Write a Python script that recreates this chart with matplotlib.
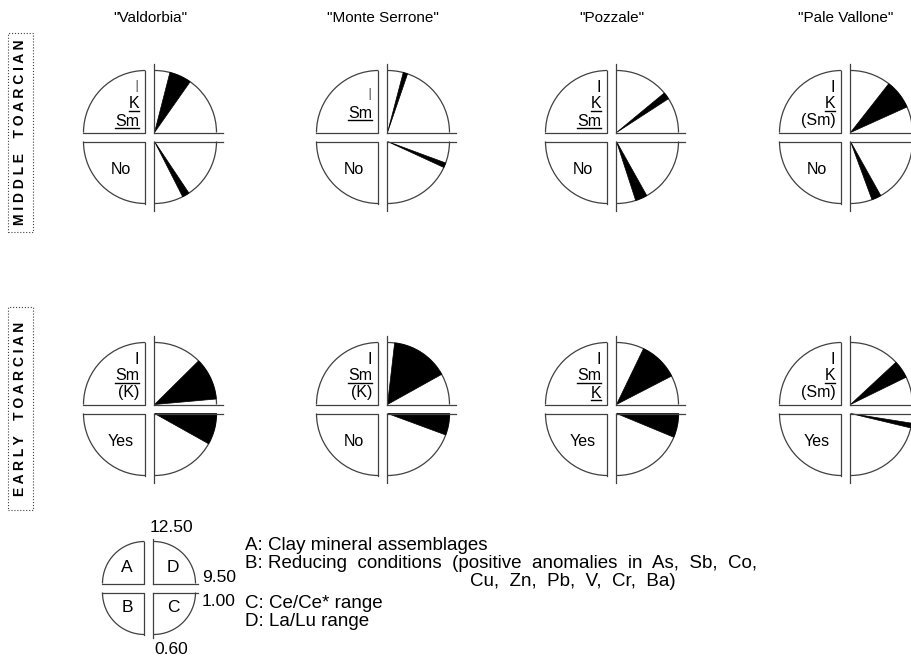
import matplotlib.pyplot as plt
from matplotlib.patches import Wedge, Arc, Rectangle

plt.rcParams['font.family'] = ['Liberation Sans', 'DejaVu Sans']

# sections and their ratio scales
sites = ['"Valdorbia"', '"Monte Serrone"', '"Pozzale"', '"Pale Vallone"']
stages = ['MIDDLE TOARCIAN', 'EARLY TOARCIAN']

LALU_MIN, LALU_MAX = 9.50, 12.50
CECE_MIN, CECE_MAX = 0.60, 1.00

# clay assemblages: (label, underlined, faint)
clay_middle = [
    [('I', False, True), ('K', True, False), ('Sm', True, False)],
    [('I', False, True), ('Sm', True, False)],
    [('I', False, False), ('K', True, False), ('Sm', True, False)],
    [('I', False, False), ('K', True, False), ('(Sm)', False, False)],
]
clay_early = [
    [('I', False, False), ('Sm', True, False), ('(K)', False, False)],
    [('I', False, False), ('Sm', True, False), ('(K)', False, False)],
    [('I', False, False), ('Sm', True, False), ('K', True, False)],
    [('I', False, False), ('K', True, False), ('(Sm)', False, False)],
]
reducing_middle = ['No', 'No', 'No', 'No']
reducing_early = ['Yes', 'No', 'Yes', 'Yes']

lalu_middle = [(11.33, 12.02), (11.87, 12.01), (10.60, 10.82), (10.31, 11.23)]
lalu_early = [(9.67, 10.99), (10.47, 12.28), (10.41, 11.64), (10.37, 10.93)]
cece_middle = [(0.72, 0.75), (0.89, 0.91), (0.68, 0.73), (0.69, 0.73)]
cece_early = [(0.87, 1.00), (0.91, 1.00), (0.90, 1.00), (0.94, 0.96)]

legend_lines = [
    'A: Clay mineral assemblages',
    'B: Reducing conditions (positive anomalies in As, Sb, Co,',
    'C: Ce/Ce* range',
    'D: La/Lu range',
]
legend_cont = 'Cu, Zn, Pb, V, Cr, Ba)'

fig = plt.figure(figsize=(9.12, 6.57), dpi=100)
ax = fig.add_axes([0, 0, 1, 1])
ax.set_xlim(0, 912)
ax.set_ylim(0, 657)
ax.axis('off')

LC = '0.25'
LW = 0.9
G = 4.5


def lalu_angle(v):
    return (v - LALU_MIN) / (LALU_MAX - LALU_MIN) * 90


def cece_angle(v):
    return -(CECE_MAX - v) / (CECE_MAX - CECE_MIN) * 90


def widen(s, n, keep_first=False):
    # looser word spacing like the typeset caption
    words = s.split(' ')
    if keep_first:
        return words[0] + ' ' + (' ' * n).join(words[1:])
    return (' ' * n).join(words)


def quadrants(x, y, r, ext):
    # left half: plain quarter circles
    ax.add_patch(Arc((x - G, y + G), 2 * r, 2 * r, theta1=90, theta2=180, color=LC, lw=LW))
    ax.plot([x - G - r, x - G, x - G], [y + G, y + G, y + G + r], color=LC, lw=LW)
    ax.add_patch(Arc((x - G, y - G), 2 * r, 2 * r, theta1=180, theta2=270, color=LC, lw=LW))
    ax.plot([x - G - r, x - G, x - G], [y - G, y - G, y - G - r], color=LC, lw=LW)
    # right half: quarter circles with their scale axes
    ax.add_patch(Arc((x + G, y + G), 2 * r, 2 * r, theta1=0, theta2=90, color=LC, lw=LW))
    ax.plot([x + G, x + G], [y + G, y + G + r + ext], color=LC, lw=LW)
    ax.plot([x + G, x + G + r + ext], [y + G, y + G], color=LC, lw=LW)
    ax.add_patch(Arc((x + G, y - G), 2 * r, 2 * r, theta1=270, theta2=360, color=LC, lw=LW))
    ax.plot([x + G, x + G], [y - G, y - G - r - ext], color=LC, lw=LW)
    ax.plot([x + G, x + G + r + ext], [y - G, y - G], color=LC, lw=LW)


def underline(t):
    fig.canvas.draw()
    bb = t.get_window_extent(fig.canvas.get_renderer())
    (x0, y0), (x1, y1) = ax.transData.inverted().transform([[bb.x0, bb.y0], [bb.x1, bb.y1]])
    ax.plot([x0, x1], [y0 + 1, y0 + 1], color='k', lw=1.0)


def diagram(x, y, clay, red, lalu, cece):
    r = 62
    quadrants(x, y, r, 7)
    ax.add_patch(Wedge((x + G, y + G), r, lalu_angle(lalu[0]), lalu_angle(lalu[1]),
                       facecolor='k', edgecolor='k', lw=0.5))
    ax.add_patch(Wedge((x + G, y - G), r, cece_angle(cece[0]), cece_angle(cece[1]),
                       facecolor='k', edgecolor='k', lw=0.5))
    offs = [50, 33, 16] if len(clay) == 3 else [42, 24]
    for (lab, ul, faint), dy in zip(clay, offs):
        t = ax.text(x - G - 6, y + dy, lab, ha='right', va='center', fontsize=11.5,
                    color='0.5' if faint else 'k')
        if ul:
            underline(t)
    ax.text(x - G - 25, y - 33, red, ha='center', va='center', fontsize=11.5)


cols = [150, 383, 612, 846]
rows = [520, 248]

for i, name in enumerate(sites):
    ax.text(cols[i], 639, name, ha='center', va='center', fontsize=11)
    diagram(cols[i], rows[0], clay_middle[i], reducing_middle[i], lalu_middle[i], cece_middle[i])
    diagram(cols[i], rows[1], clay_early[i], reducing_early[i], lalu_early[i], cece_early[i])

# stage labels in dotted boxes, letter-spaced
for stage, (y0, y1) in zip(stages, [(425, 624), (147, 350)]):
    ax.add_patch(Rectangle((8, y0), 25, y1 - y0, fill=False, ec=LC, lw=0.8, ls=':'))
    spaced = '    '.join(' '.join(w) for w in stage.split(' '))
    ax.text(20.5, (y0 + y1) / 2, spaced, rotation=90, ha='center', va='center',
            fontsize=10, fontweight='bold')

# key diagram
kx, ky = 149, 69
quadrants(kx, ky, 42, 3)
for lab, dx, dy in [('A', -22, 20), ('D', 24, 20), ('B', -22, -20), ('C', 24, -20)]:
    ax.text(kx + dx, ky + dy, lab, ha='center', va='center', fontsize=12.5)
ax.text(kx + 22, 129, '%.2f' % LALU_MAX, ha='center', va='center', fontsize=12.5)
ax.text(202, 80, '%.2f' % LALU_MIN, ha='left', va='center', fontsize=12.5)
ax.text(202, 55, '%.2f' % CECE_MAX, ha='left', va='center', fontsize=12.5)
ax.text(kx + 22, 8, '%.2f' % CECE_MIN, ha='center', va='center', fontsize=12.5)

for lab, yy, n in zip(legend_lines, [112, 94, 54, 36], [1, 2, 1, 1]):
    ax.text(245, yy, widen(lab, n, keep_first=True), ha='left', va='center', fontsize=13.5)
ax.text(470, 75, widen(legend_cont, 2), ha='left', va='center', fontsize=13.5)

fig.savefig('out.png', dpi=100)
